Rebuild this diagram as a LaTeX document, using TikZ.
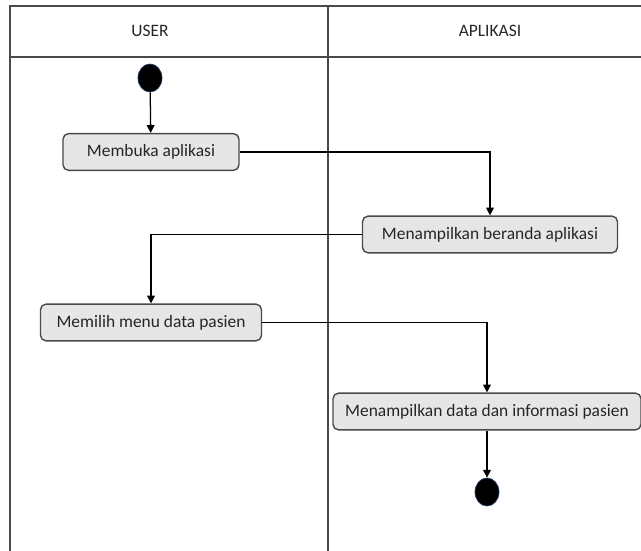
\documentclass[tikz,border=0pt]{standalone}
\usepackage{fontspec}
\setmainfont{Carlito}
\usepackage{tikz}
\usetikzlibrary{arrows.meta,shapes.geometric}

\definecolor{lanegray}{HTML}{4A4A4A}
\definecolor{boxfill}{HTML}{E6E6E6}
\definecolor{dotedge}{HTML}{1F3864}

\tikzset{
  lane/.style={draw=lanegray, line width=1.4pt},
  activity/.style={draw=lanegray, fill=boxfill, rounded corners=4pt, line width=1pt,
    minimum height=0.92cm, inner sep=0pt, text=black!85, font=\fontsize{12.4}{14}\selectfont},
  dot/.style={ellipse, draw=dotedge, fill=black, line width=0.5pt,
    minimum width=0.6cm, minimum height=0.7cm, inner sep=0pt},
  flow/.style={draw=black, line width=0.9pt, -{Triangle[width=5.5pt,length=5.5pt]}},
  lanetitle/.style={text=black!85, font=\fontsize{12.4}{14}\selectfont}
}

\begin{document}
\begin{tikzpicture}[x=0.025cm, y=-0.025cm]
    \useasboundingbox (0,0) rectangle (641,551);

    % Swimlanes
    \draw[lane] (10,551) -- (10,6) -- (641,6);
    \draw[lane] (10,57) -- (641,57);
    \draw[lane] (328,6) -- (328,551);
    \node[lanetitle] (user) at (150,31) {USER};
    \node[lanetitle] (app) at (490,31) {APLIKASI};

    % Activities
    \node[dot] (start) at (150,78) {};
    \node[activity, minimum width=4.4cm] (buka) at (151,152) {Membuka aplikasi};
    \node[activity, minimum width=6.375cm] (beranda) at (490,234.5) {Menampilkan beranda aplikasi};
    \node[activity, minimum width=5.525cm] (menu) at (151,322.5) {Memilih menu data pasien};
    \node[activity, minimum width=7.7cm] (data) at (487,411.5) {Menampilkan data dan informasi pasien};
    \node[dot] (end) at (487,492) {};

    % Flow
    \draw[flow] (start) -- (buka);
    \draw[flow] (buka.east) -| (beranda.north);
    \draw[flow] (beranda.west) -| (menu.north);
    \draw[flow] (menu.east) -| (data.north);
    \draw[flow] (data) -- (end);
\end{tikzpicture}
\end{document}
